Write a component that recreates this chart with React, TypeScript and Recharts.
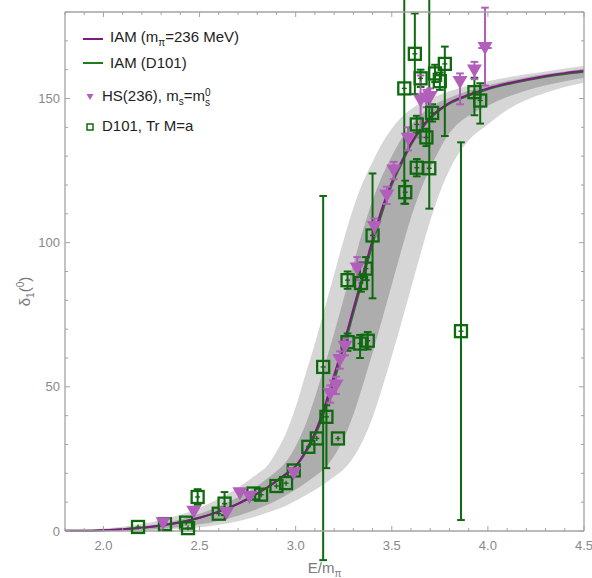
import React from 'react'
import { ComposedChart, Area, Line, Scatter, XAxis, YAxis, ReferenceLine } from 'recharts'

// E/m_pi grid for the IAM curves and their bands
const energies = [1.8, 1.9, 2.0, 2.1, 2.2, 2.3, 2.4, 2.5, 2.6, 2.7, 2.8, 2.85, 2.9, 2.95, 3.0, 3.05, 3.1, 3.15, 3.2, 3.25, 3.3, 3.35, 3.4, 3.45, 3.5, 3.55, 3.6, 3.65, 3.7, 3.75, 3.8, 3.9, 4.0, 4.1, 4.2, 4.3, 4.4, 4.5]
const iam236 = [0.05, 0.1, 0.3, 0.6, 1.1, 1.9, 3.0, 4.6, 6.7, 9.4, 13, 15, 17.3, 19.8, 22.5, 27.5, 34, 43, 54, 65, 77, 89, 101, 112, 121, 128, 134.5, 139.5, 143.5, 146.3, 148.5, 151.3, 153.5, 155.2, 156.6, 157.8, 158.8, 159.6]
const iamD101 = [0.05, 0.1, 0.3, 0.6, 1.1, 1.9, 3.0, 4.6, 6.7, 9.5, 13, 15, 17.3, 19.8, 22.5, 27, 33, 41.5, 52, 63.5, 75.5, 87.5, 99.5, 110.5, 120, 127.3, 134, 139, 143, 146, 148.2, 151, 153.2, 154.9, 156.3, 157.5, 158.5, 159.3]
const outerLo = [0, 0, 0, 0.05, 0.15, 0.4, 0.75, 1.3, 2.2, 3.4, 5.2, 6.3, 7.5, 8.8, 10.5, 12.3, 14.2, 16.4, 18.8, 21.4, 25.5, 31.4, 39.4, 49.6, 60.6, 72.2, 84.2, 96.2, 107.6, 117.4, 125.2, 135.5, 141, 146, 149.5, 152, 154, 155.5]
const outerHi = [0.2, 0.45, 0.85, 1.5, 2.4, 3.8, 5.6, 8, 11.2, 15, 19.8, 22.5, 27.5, 34, 43, 54, 65, 77, 89, 101, 112, 121, 128, 134.5, 139.5, 143.5, 146.3, 148.5, 150, 151.3, 152.5, 154.4, 156, 157.3, 158.4, 159.4, 160.4, 161.4]
const innerLo = [0, 0.05, 0.1, 0.2, 0.4, 0.8, 1.4, 2.3, 3.5, 5.3, 7.6, 9, 10.6, 12.4, 14.4, 16.6, 19, 21.7, 26, 32, 40.3, 50.7, 61.7, 73.4, 85.4, 97.4, 108.7, 118.3, 125.9, 132.5, 138, 144, 147.5, 150.5, 152.8, 154.6, 156, 157.2]
const innerHi = [0.1, 0.2, 0.5, 0.9, 1.6, 2.6, 4.0, 6.0, 8.5, 11.7, 15.6, 18.1, 20.7, 24, 29.4, 36.7, 46.3, 57.3, 68.6, 80.6, 92.6, 104.3, 114.7, 123.1, 130, 136, 140.7, 144.3, 147, 148.9, 150.3, 152.7, 154.6, 156.1, 157.4, 158.5, 159.4, 160.3]

// lattice points: [E/m_pi, delta, err down, err up, (x err)]
const hsPoints = [
  [2.31, 2.7, 1, 1], [2.47, 6.7, 1.5, 1.5], [2.64, 6.2, 1.5, 1.5], [2.71, 13.1, 1.5, 1.5],
  [2.76, 11.8, 1.5, 1.5], [2.99, 20, 2, 2], [3.18, 47.5, 3, 3], [3.21, 50.5, 3, 3, 0.02],
  [3.23, 59.3, 3, 3], [3.257, 63.9, 3, 3], [3.32, 91, 4, 4], [3.41, 105.4, 3, 3],
  [3.474, 116.4, 3, 3], [3.51, 125, 3, 3], [3.585, 136, 4, 4], [3.65, 149.3, 12.8, 8.7],
  [3.68, 150, 3, 3], [3.7, 150.5, 3, 3], [3.855, 155.7, 7.7, 3], [3.93, 159.7, 3, 3],
  [3.985, 167.5, 13, 14, 0.035],
]
const d101Points = [
  [2.18, 1.4, 1, 1], [2.32, 2.4, 1, 1], [2.43, 2.9, 1, 1], [2.44, 1.0, 1, 1],
  [2.49, 11.8, 2.7, 2.7], [2.6, 6.0, 2, 2], [2.63, 9.5, 4, 4], [2.78, 13, 1.5, 1.5],
  [2.82, 12.6, 1.5, 1.5], [2.9, 15.6, 1.5, 1.5], [2.95, 16.6, 1.5, 1.5], [2.99, 21, 2, 2],
  [3.066, 29.2, 2, 2], [3.11, 32.1, 2, 2], [3.143, 56.9, 67, 59.3], [3.16, 39.6, 17.8, 4],
  [3.22, 32.1, 2, 2], [3.27, 65.5, 3, 3], [3.335, 65, 5, 3], [3.375, 66, 3, 3],
  [3.27, 87, 3, 3], [3.34, 86, 3, 3], [3.365, 91, 4, 4], [3.4, 102.5, 21.8, 21.5],
  [3.57, 117.5, 4, 4], [3.565, 153.5, 40, 35], [3.62, 165.5, 14, 14], [3.63, 141, 3, 3],
  [3.63, 126, 3, 3], [3.68, 136.5, 3, 3], [3.695, 125.8, 14, 60], [3.65, 157, 3, 3],
  [3.71, 145, 3, 3], [3.725, 158.7, 3, 3], [3.75, 156, 3, 3], [3.776, 162, 25, 6],
  [3.86, 69.3, 65.5, 65.5], [3.93, 152.2, 8, 5], [3.96, 149.3, 8, 6],
]

const xTicks = [1.8, 1.9, 2.0, 2.1, 2.2, 2.3, 2.4, 2.5, 2.6, 2.7, 2.8, 2.9, 3.0, 3.1, 3.2, 3.3, 3.4, 3.5, 3.6, 3.7, 3.8, 3.9, 4.0, 4.1, 4.2, 4.3, 4.4, 4.5]
const xMajor = [2.0, 2.5, 3.0, 3.5, 4.0, 4.5]
const yTicks = [0, 10, 20, 30, 40, 50, 60, 70, 80, 90, 100, 110, 120, 130, 140, 150, 160, 170, 180]
const yMajor = [0, 50, 100, 150]

const PURPLE = '#7e1a82'
const GREEN = '#237a1c'
const HS = '#b15fbb'
const D101 = '#0f6a0f'
const FRAME = '#a3a3a3'
const LABEL = '#888'

// frame geometry: top axis band and right axis band
const TOP_H = 12
const RIGHT_W = 8
const W = 592
const H = 578

const curveRows = energies.map((e, i) => ({
  e,
  iam: iam236[i],
  d101: iamD101[i],
  outer: [outerLo[i], outerHi[i]],
  inner: [innerLo[i], innerHi[i]],
}))
const hsRows = hsPoints.map(p => ({ e: p[0], d: p[1] }))
const d101Rows = d101Points.map(p => ({ e: p[0], d: p[1] }))

const isMajor = (list: number[], v: number) => list.some(m => Math.abs(m - v) < 1e-6)

// bottom tick also mirrors itself onto the top frame edge
const BottomTick = ({ x, y, payload }: any) => {
  const major = isMajor(xMajor, payload.value)
  const len = major ? 5 : 3
  return (
    <g>
      <line x1={x} x2={x} y1={y} y2={y - len} stroke={FRAME} />
      <line x1={x} x2={x} y1={TOP_H} y2={TOP_H + len} stroke={FRAME} />
      {major && (
        <text x={x} y={y + 19} textAnchor="middle" fill={LABEL} fontSize={13}>{payload.value.toFixed(1)}</text>
      )}
    </g>
  )
}
const LeftTick = ({ x, y, payload }: any) => {
  const major = isMajor(yMajor, payload.value)
  const len = major ? 5 : 3
  const right = W - RIGHT_W
  return (
    <g>
      <line x1={x} x2={x + len} y1={y} y2={y} stroke={FRAME} />
      <line x1={right} x2={right - len} y1={y} y2={y} stroke={FRAME} />
      {major && (
        <text x={x - 5} y={y + 4.5} textAnchor="end" fill={LABEL} fontSize={13}>{payload.value}</text>
      )}
    </g>
  )
}

const YTitle = ({ viewBox }: any) => {
  const cy = viewBox.y + viewBox.height / 2 + 20
  return (
    <text transform={`translate(30,${cy}) rotate(-90)`} textAnchor="middle" fill="#7a7a7a" fontSize={15}>
      δ<tspan dy={4} fontSize={10}>1</tspan><tspan dy={-4}>(</tspan><tspan dy={-6} fontSize={10}>0</tspan><tspan dy={6}>)</tspan>
    </text>
  )
}
const XTitle = ({ viewBox }: any) => (
  <text x={viewBox.x + viewBox.width / 2} y={viewBox.y + 42} textAnchor="middle" fill="#7a7a7a" fontSize={15}>
    E/m<tspan dy={4} fontSize={10}>π</tspan>
  </text>
)

const Square = ({ cx, cy }: any) => (
  <g>
    <rect x={cx - 6} y={cy - 6} width={12} height={12} fill="none" stroke={D101} strokeWidth={2.3} />
    <line x1={cx} x2={cx} y1={cy - 2.5} y2={cy + 2.5} stroke={D101} strokeWidth={1.4} />
    <line x1={cx - 2.5} x2={cx + 2.5} y1={cy} y2={cy} stroke={D101} strokeWidth={1.4} />
  </g>
)
const Triangle = ({ cx, cy }: any) => (
  <polygon points={`${cx - 7.5},${cy - 6} ${cx + 7.5},${cy - 6} ${cx},${cy + 7}`} fill={HS} />
)

function errorBars(points: number[][], color: string, tag: string) {
  const cap = 0.02
  const out: any[] = []
  points.forEach((p, i) => {
    const [e, d, lo, hi, xe] = p
    if (Math.max(lo, hi) >= 2.5) {
      out.push(<ReferenceLine key={`${tag}v${i}`} segment={[{ x: e, y: d - lo }, { x: e, y: d + hi }]} stroke={color} strokeWidth={2} ifOverflow="visible" />)
      out.push(<ReferenceLine key={`${tag}l${i}`} segment={[{ x: e - cap, y: d - lo }, { x: e + cap, y: d - lo }]} stroke={color} strokeWidth={2} ifOverflow="visible" />)
      out.push(<ReferenceLine key={`${tag}h${i}`} segment={[{ x: e - cap, y: d + hi }, { x: e + cap, y: d + hi }]} stroke={color} strokeWidth={2} ifOverflow="visible" />)
    }
    if (xe) {
      out.push(<ReferenceLine key={`${tag}x${i}`} segment={[{ x: e - xe, y: d }, { x: e + xe, y: d }]} stroke={color} strokeWidth={2} ifOverflow="visible" />)
    }
  })
  return out
}

const legendText: React.CSSProperties = { position: 'absolute', fontSize: 15, color: '#222', whiteSpace: 'nowrap', lineHeight: '18px' }

function LegendBox() {
  return (
    <div style={{ position: 'absolute', left: 0, top: 0, pointerEvents: 'none', fontFamily: '"Liberation Sans", Arial, sans-serif' }}>
      <div style={{ position: 'absolute', left: 83, top: 38, width: 20, height: 2, background: PURPLE }} />
      <div style={{ ...legendText, left: 110, top: 28 }}>IAM (m<sub style={{ fontSize: 10 }}>π</sub>=236 MeV)</div>
      <div style={{ position: 'absolute', left: 83, top: 62, width: 20, height: 2, background: GREEN }} />
      <div style={{ ...legendText, left: 110, top: 54 }}>IAM (D101)</div>
      <svg style={{ position: 'absolute', left: 86, top: 93 }} width={8} height={8}>
        <polygon points="0.5,1 7.5,1 4,7" fill={HS} />
      </svg>
      <div style={{ ...legendText, left: 102, top: 87 }}>
        HS(236), m<sub style={{ fontSize: 10 }}>s</sub>=m
        <span style={{ display: 'inline-flex', flexDirection: 'column', fontSize: 10, lineHeight: '10px', verticalAlign: 'middle', position: 'relative', top: 1 }}>
          <span>0</span><span>s</span>
        </span>
      </div>
      <svg style={{ position: 'absolute', left: 86, top: 123 }} width={8} height={8}>
        <rect x={1} y={1} width={6} height={6} fill="none" stroke={D101} strokeWidth={1.5} />
      </svg>
      <div style={{ ...legendText, left: 102, top: 117 }}>D101, Tr M=a</div>
    </div>
  )
}

export default function App() {
  return (
    <div style={{ position: 'absolute', left: 0, top: 0, width: W, height: H, background: '#fff', fontFamily: '"Liberation Sans", Arial, sans-serif' }}>
      <ComposedChart width={W} height={H} data={curveRows} margin={{ top: 0, right: 0, bottom: 0, left: 0 }}>
        <XAxis dataKey="e" type="number" domain={[1.8, 4.5]} ticks={xTicks} interval={0} tickSize={0} tickMargin={0}
          height={47} tick={<BottomTick />} axisLine={{ stroke: FRAME, strokeWidth: 1.3 }} label={<XTitle />} />
        <XAxis xAxisId="top" orientation="top" type="number" domain={[1.8, 4.5]} height={TOP_H} tick={false}
          tickLine={false} axisLine={{ stroke: FRAME, strokeWidth: 1.3 }} />
        <YAxis type="number" domain={[0, 180]} ticks={yTicks} interval={0} tickSize={0} tickMargin={0} width={65}
          tick={<LeftTick />} axisLine={{ stroke: FRAME, strokeWidth: 1.3 }} label={<YTitle />} />
        <YAxis yAxisId="right" orientation="right" type="number" domain={[0, 180]} width={RIGHT_W} tick={false}
          tickLine={false} axisLine={{ stroke: FRAME, strokeWidth: 1.3 }} />

        <Area dataKey="outer" type="monotone" stroke="none" fill="#d6d6d6" fillOpacity={1} isAnimationActive={false} />
        <Area dataKey="inner" type="monotone" stroke="none" fill="#adadad" fillOpacity={1} isAnimationActive={false} />
        <Line dataKey="d101" type="monotone" stroke={GREEN} strokeWidth={2} dot={false} isAnimationActive={false} />
        <Line dataKey="iam" type="monotone" stroke={PURPLE} strokeWidth={2} dot={false} isAnimationActive={false} />

        {errorBars(d101Points, D101, 'd')}
        {errorBars(hsPoints, HS, 'h')}

        <Scatter data={d101Rows} dataKey="d" shape={<Square />} isAnimationActive={false} />
        <Scatter data={hsRows} dataKey="d" shape={<Triangle />} isAnimationActive={false} />
      </ComposedChart>
      <LegendBox />
    </div>
  )
}
